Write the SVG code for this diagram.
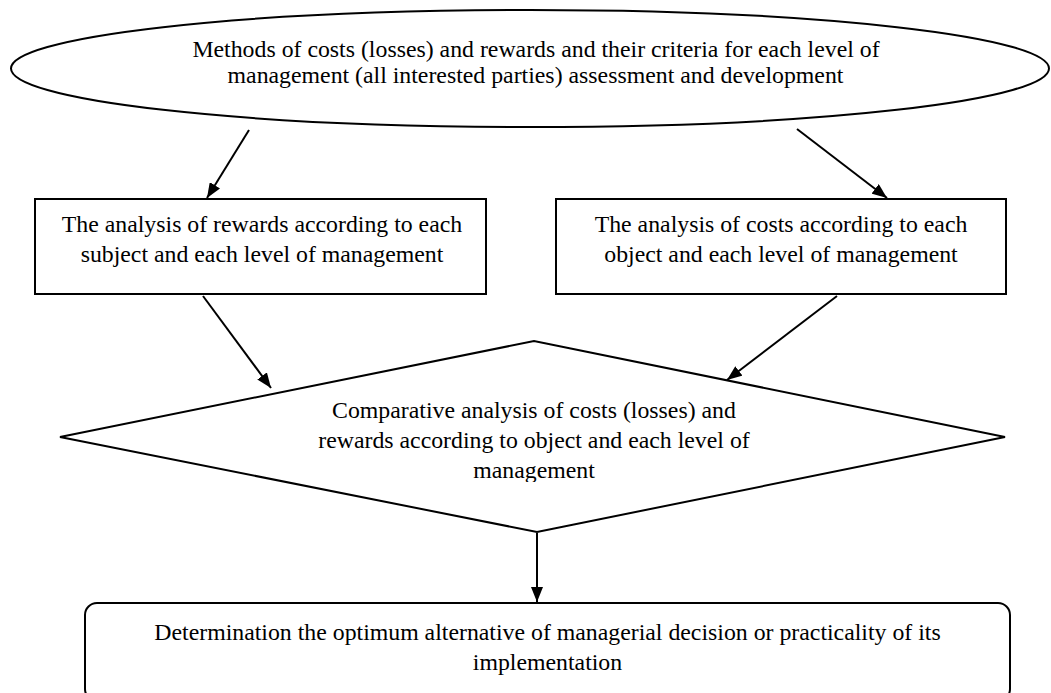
<svg xmlns="http://www.w3.org/2000/svg" width="1051" height="693" viewBox="0 0 1051 693">
<style>
.shape{fill:#fff;stroke:#000;stroke-width:2}
.t{font-family:"Liberation Serif","Times New Roman",serif;font-size:23.8px;fill:#000;text-anchor:middle}
.con{stroke:#000;stroke-width:2;fill:none;marker-end:url(#ah)}
</style>
<defs>
<marker id="ah" viewBox="0 0 15 12" refX="15" refY="6" markerWidth="15" markerHeight="12" markerUnits="userSpaceOnUse" orient="auto">
<path d="M0,0 L15,6 L0,12 z" fill="#000"/>
</marker>
<clipPath id="dclip"><rect x="0" y="330" width="1051" height="152"/></clipPath>
</defs>
<rect width="1051" height="693" fill="#fff"/>
<g id="n1">
<ellipse class="shape" cx="530" cy="68.5" rx="519" ry="58.5"/>
<text class="t" x="536" y="57">Methods of costs (losses) and rewards and their criteria for each level of</text>
<text class="t" x="535.5" y="83">management (all interested parties) assessment and development</text>
</g>
<g id="n2">
<rect class="shape" x="35" y="199" width="451" height="95"/>
<text class="t" x="262" y="232">The analysis of rewards according to each</text>
<text class="t" x="262" y="262">subject and each level of management</text>
</g>
<g id="n3">
<rect class="shape" x="556" y="199" width="450" height="95"/>
<text class="t" x="781" y="232">The analysis of costs according to each</text>
<text class="t" x="781" y="262">object and each level of management</text>
</g>
<g id="n4">
<polygon class="shape" points="60,437 534,341 1005,437 537,532"/>
<g clip-path="url(#dclip)">
<text class="t" x="534" y="418">Comparative analysis of costs (losses) and</text>
<text class="t" x="534" y="448">rewards according to object and each level of</text>
<text class="t" x="534" y="478">management</text>
</g>
</g>
<g id="n5">
<rect class="shape" x="85" y="603" width="925" height="98" rx="12" ry="12"/>
<text class="t" x="547.5" y="640">Determination the optimum alternative of managerial decision or practicality of its</text>
<text class="t" x="547.5" y="670">implementation</text>
</g>
<g id="connectors">
<line class="con" x1="249" y1="130" x2="207" y2="198"/>
<line class="con" x1="797" y1="129" x2="887" y2="198"/>
<line class="con" x1="203" y1="296" x2="271" y2="388"/>
<line class="con" x1="837" y1="296" x2="727" y2="380"/>
<line class="con" x1="537" y1="533" x2="537" y2="602"/>
</g>
</svg>
